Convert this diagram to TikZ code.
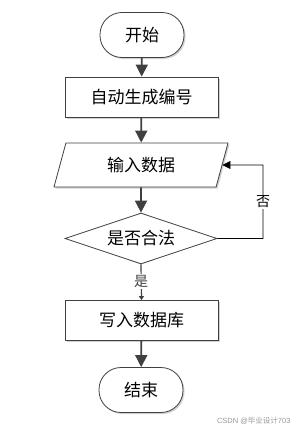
\documentclass[tikz,border=0pt]{standalone}
\usepackage{fontspec}
\setmainfont{Liberation Sans}
\newfontfamily\cjk{Noto Sans CJK SC}
\usetikzlibrary{shapes.geometric,arrows.meta,shadows}
\begin{document}
\begin{tikzpicture}[x=1pt,y=-1pt,
  txt/.style={font=\cjk\fontsize{17}{20}\selectfont},
  shd/.style={drop shadow={shadow xshift=1.5pt,shadow yshift=-1.5pt,fill=black!18,opacity=1}},
  term/.style={draw=black!75,line width=0.8pt,fill=white,rounded corners=22pt,minimum width=84pt,minimum height=45pt,txt,shd},
  proc/.style={draw=black!75,line width=0.8pt,fill=white,minimum width=153pt,minimum height=40pt,txt,shd},
  io/.style={draw=black!75,line width=0.8pt,fill=white,trapezium,trapezium left angle=62,trapezium right angle=118,minimum width=174pt,minimum height=44pt,inner xsep=0pt,trapezium stretches body,txt,shd},
  dec/.style={draw=black!75,line width=0.8pt,fill=white,diamond,aspect=3,minimum width=152pt,minimum height=51pt,inner sep=0pt,txt},
  bigarrow/.style={draw=black!75,line width=1.8pt,-{Triangle[length=12pt,width=12pt]}},
  thinarrow/.style={draw=black,line width=0.7pt,-{Triangle[length=8pt,width=8pt]}},
  lbl/.style={fill=white,inner sep=1pt,font=\cjk\fontsize{14}{16}\selectfont}
]
\useasboundingbox (0,0) rectangle (296,439);
\node[term] (start) at (142,35) {开始};
\node[proc] (gen) at (141.5,97) {自动生成编号};
\node[io] (input) at (141,165) {输入数据};
\node[dec] (check) at (141,238.5) {是否合法};
\node[proc] (write) at (141.5,320.5) {写入数据库};
\node[term] (end) at (141,390) {结束};
\coordinate (c1) at (263,238.5);
\coordinate (c2) at (263,165);
\draw[bigarrow] (start) -- (gen);
\draw[bigarrow] (gen) -- (input);
\draw[bigarrow] (input) -- (check);
\draw[bigarrow] (write) -- (end);
\draw[black!75,line width=1.2pt,-{Triangle[length=4pt,width=5pt]}] (check.south) -- node[lbl,pos=0.48] (yes) {是} (write.north);
\draw[thinarrow] (check.east) -- (c1) -- node[lbl,pos=0.5] (no) {否} (c2) -- (input.east);
\node[font=\fontsize{7.5}{9}\selectfont,text=black!40,anchor=east] (wm) at (294,421) {CSDN @{\cjk 毕业设计}703};
\end{tikzpicture}
\end{document}
